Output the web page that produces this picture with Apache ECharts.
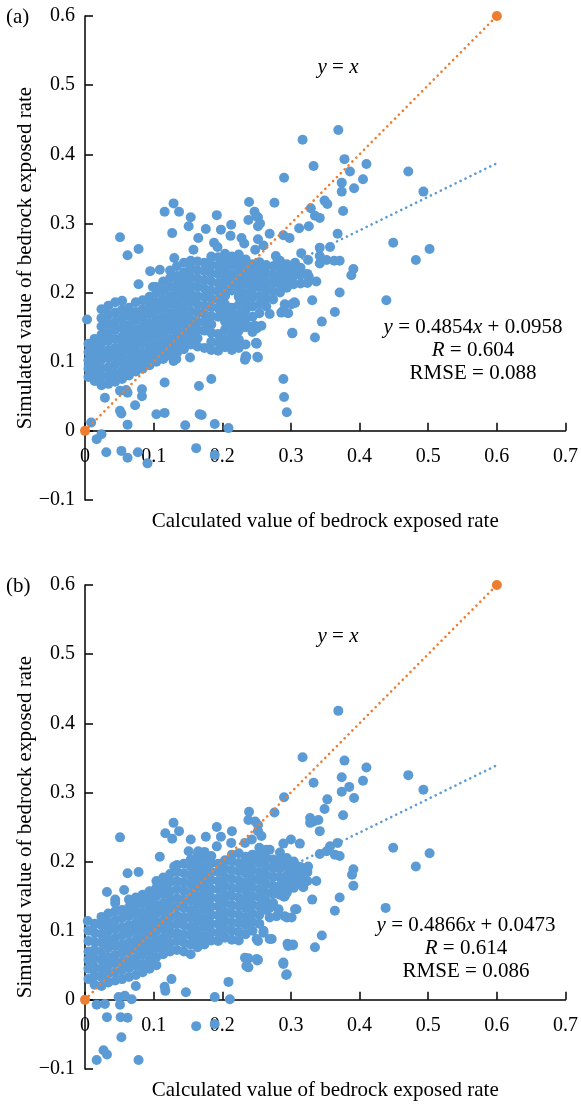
<!DOCTYPE html>
<html>
<head>
<meta charset="utf-8">
<script src="https://cdn.jsdelivr.net/npm/echarts@6.0.0/dist/echarts.min.js"></script>
<style>
  html, body { margin: 0; padding: 0; background: #fff; }
  #chart { width: 581px; height: 1104px; }
</style>
</head>
<body>
<div id="chart"></div>
<script>
// panel (a): dense band, one column per x with its y values
const blobA = [
  [0.005, [0.078, 0.09, 0.102, 0.114, 0.126]],
  [0.014, [0.072, 0.084, 0.097, 0.109, 0.121, 0.133]],
  [0.024, [0.066, 0.078, 0.09, 0.103, 0.115, 0.127, 0.139, 0.151, 0.163, 0.176]],
  [0.034, [0.068, 0.08, 0.092, 0.105, 0.117, 0.13, 0.142, 0.155, 0.168, 0.181]],
  [0.044, [0.071, 0.083, 0.096, 0.108, 0.12, 0.133, 0.146, 0.158, 0.171, 0.186]],
  [0.054, [0.075, 0.087, 0.1, 0.112, 0.124, 0.136, 0.149, 0.162, 0.175, 0.188]],
  [0.064, [0.08, 0.092, 0.104, 0.117, 0.129, 0.141, 0.153, 0.166, 0.178]],
  [0.074, [0.086, 0.098, 0.11, 0.122, 0.135, 0.147, 0.16, 0.172, 0.186]],
  [0.084, [0.09, 0.102, 0.114, 0.127, 0.139, 0.151, 0.164, 0.176, 0.189]],
  [0.094, [0.095, 0.107, 0.119, 0.132, 0.144, 0.156, 0.169, 0.181, 0.194]],
  [0.104, [0.1, 0.112, 0.124, 0.137, 0.149, 0.161, 0.174, 0.186, 0.199, 0.208]],
  [0.114, [0.104, 0.116, 0.128, 0.141, 0.153, 0.165, 0.178, 0.19, 0.203, 0.216]],
  [0.124, [0.109, 0.121, 0.133, 0.146, 0.158, 0.17, 0.183, 0.195, 0.208, 0.221, 0.232]],
  [0.134, [0.113, 0.126, 0.138, 0.15, 0.162, 0.175, 0.187, 0.2, 0.212, 0.224, 0.238]],
  [0.144, [0.118, 0.13, 0.142, 0.155, 0.167, 0.179, 0.192, 0.204, 0.217, 0.229, 0.243]],
  [0.154, [0.125, 0.137, 0.149, 0.161, 0.173, 0.186, 0.198, 0.21, 0.222, 0.235, 0.246]],
  [0.164, [0.122, 0.134, 0.146, 0.158, 0.171, 0.183, 0.195, 0.208, 0.22, 0.232, 0.245]],
  [0.174, [0.12, 0.145, 0.157, 0.169, 0.181, 0.194, 0.206, 0.218, 0.231, 0.243]],
  [0.184, [0.117, 0.129, 0.142, 0.154, 0.166, 0.179, 0.191, 0.203, 0.216, 0.228, 0.24, 0.252]],
  [0.194, [0.116, 0.128, 0.14, 0.165, 0.178, 0.19, 0.202, 0.214, 0.227, 0.239, 0.251]],
  [0.204, [0.121, 0.133, 0.146, 0.158, 0.17, 0.183, 0.195, 0.207, 0.219, 0.232, 0.244, 0.256]],
  [0.214, [0.117, 0.129, 0.141, 0.154, 0.166, 0.178, 0.203, 0.215, 0.227, 0.24, 0.252]],
  [0.224, [0.12, 0.132, 0.145, 0.157, 0.169, 0.182, 0.194, 0.206, 0.218, 0.231, 0.243, 0.255]],
  [0.234, [0.108, 0.125, 0.15, 0.162, 0.175, 0.187, 0.199, 0.212, 0.224, 0.236, 0.248]],
  [0.244, [0.143, 0.165, 0.18, 0.193, 0.205, 0.217, 0.229, 0.241]],
  [0.254, [0.17, 0.183, 0.195, 0.208, 0.22, 0.232, 0.244]],
  [0.264, [0.18, 0.192, 0.204, 0.216, 0.228, 0.24]],
  [0.274, [0.19, 0.202, 0.214, 0.226, 0.238]],
  [0.284, [0.2, 0.212, 0.224, 0.236, 0.246]],
  [0.294, [0.207, 0.219, 0.231, 0.241]],
  [0.304, [0.212, 0.224, 0.236]],
  [0.314, [0.213, 0.226, 0.236]],
  [0.324, [0.214, 0.227]]
];

// panel (a): scattered points outside the band
const spreadA = [
  [0.129, 0.329], [0.116, 0.317], [0.137, 0.317], [0.154, 0.309], [0.192, 0.312], [0.239, 0.331],
  [0.247, 0.317], [0.252, 0.309], [0.238, 0.305], [0.252, 0.296], [0.151, 0.296], [0.176, 0.292],
  [0.198, 0.291], [0.213, 0.298], [0.127, 0.286], [0.051, 0.28], [0.212, 0.282], [0.165, 0.279],
  [0.228, 0.279], [0.232, 0.271], [0.078, 0.263], [0.188, 0.272], [0.193, 0.266], [0.062, 0.254],
  [0.158, 0.262], [0.13, 0.25], [0.095, 0.231], [0.109, 0.233], [0.078, 0.212], [0.099, 0.208],
  [0.003, 0.161], [0.029, 0.048], [0.051, 0.058], [0.062, 0.055], [0.083, 0.06], [0.083, 0.05],
  [0.073, 0.037], [0.051, 0.029], [0.053, 0.025], [0.104, 0.024], [0.116, 0.026], [0.116, 0.07],
  [0.129, 0.101], [0.133, 0.104], [0.153, 0.106], [0.166, 0.065], [0.184, 0.075], [0.17, 0.023],
  [0.146, 0.008], [0.062, 0.009], [0.189, 0.01], [0.209, 0.004], [0.009, 0.012],
  [0.017, -0.012], [0.024, -0.005], [0.031, -0.031], [0.053, -0.029], [0.062, -0.039], [0.077, -0.031],
  [0.091, -0.047], [0.162, -0.025], [0.189, -0.035], [0.167, 0.024], [0.06, 0.059],
  [0.289, 0.075], [0.29, 0.049], [0.294, 0.027], [0.302, 0.142], [0.251, 0.107], [0.235, 0.107],
  [0.249, 0.127], [0.233, 0.155], [0.25, 0.148], [0.289, 0.174], [0.305, 0.186],
  [0.221, 0.147], [0.223, 0.132], [0.214, 0.123], [0.243, 0.151], [0.25, 0.127], [0.252, 0.106], [0.233, 0.103],
  [0.369, 0.435], [0.317, 0.421], [0.378, 0.393], [0.333, 0.383], [0.41, 0.386], [0.29, 0.366],
  [0.386, 0.375], [0.405, 0.364], [0.471, 0.375], [0.374, 0.359], [0.374, 0.346], [0.392, 0.351],
  [0.493, 0.346], [0.276, 0.33], [0.349, 0.333], [0.353, 0.328], [0.329, 0.322], [0.335, 0.311],
  [0.342, 0.308], [0.326, 0.296], [0.376, 0.318], [0.312, 0.293], [0.368, 0.285], [0.289, 0.283],
  [0.298, 0.279], [0.269, 0.285], [0.449, 0.272], [0.502, 0.263], [0.482, 0.247], [0.342, 0.265],
  [0.357, 0.266], [0.342, 0.253], [0.315, 0.257], [0.325, 0.247], [0.278, 0.253], [0.28, 0.243],
  [0.342, 0.242], [0.352, 0.247], [0.363, 0.246], [0.371, 0.246], [0.306, 0.243], [0.391, 0.234],
  [0.388, 0.225], [0.371, 0.2], [0.331, 0.189], [0.439, 0.189], [0.291, 0.183], [0.301, 0.183],
  [0.306, 0.185], [0.286, 0.171], [0.296, 0.17], [0.269, 0.169], [0.364, 0.172], [0.345, 0.158],
  [0.257, 0.152], [0.248, 0.152], [0.302, 0.141], [0.335, 0.135], [0.25, 0.126],
  [0.252, 0.277], [0.248, 0.262], [0.26, 0.268], [0.25, 0.31], [0.255, 0.3],
  [0.337, 0.216], [0.326, 0.223], [0.29, 0.22], [0.262, 0.215]
];

// panel (b): dense band
const blobB = [
  [0.005, [0.03, 0.045, 0.058, 0.07, 0.085, 0.1]],
  [0.014, [0.022, 0.035, 0.047, 0.06, 0.072, 0.084, 0.097, 0.11]],
  [0.024, [0.02, 0.033, 0.045, 0.058, 0.07, 0.083, 0.095, 0.108, 0.12]],
  [0.034, [0.025, 0.038, 0.05, 0.062, 0.075, 0.087, 0.1, 0.112, 0.125]],
  [0.044, [0.028, 0.04, 0.053, 0.065, 0.078, 0.09, 0.103, 0.115, 0.128, 0.14]],
  [0.054, [0.03, 0.043, 0.055, 0.068, 0.08, 0.093, 0.105, 0.118, 0.13]],
  [0.064, [0.033, 0.046, 0.058, 0.071, 0.083, 0.096, 0.108, 0.121, 0.133, 0.145]],
  [0.074, [0.02, 0.036, 0.049, 0.061, 0.074, 0.086, 0.099, 0.111, 0.124, 0.136, 0.148]],
  [0.084, [0.04, 0.052, 0.065, 0.077, 0.09, 0.102, 0.115, 0.127, 0.14, 0.152]],
  [0.094, [0.045, 0.057, 0.07, 0.082, 0.095, 0.107, 0.12, 0.132, 0.145, 0.157]],
  [0.104, [0.05, 0.062, 0.075, 0.087, 0.1, 0.112, 0.125, 0.137, 0.15, 0.162, 0.172]],
  [0.114, [0.066, 0.078, 0.09, 0.103, 0.115, 0.128, 0.14, 0.153, 0.165, 0.177]],
  [0.124, [0.07, 0.082, 0.095, 0.107, 0.12, 0.132, 0.145, 0.157, 0.17, 0.182]],
  [0.134, [0.072, 0.085, 0.097, 0.11, 0.122, 0.135, 0.147, 0.16, 0.172, 0.185, 0.195]],
  [0.144, [0.07, 0.083, 0.095, 0.108, 0.12, 0.133, 0.145, 0.158, 0.17, 0.183, 0.197]],
  [0.154, [0.066, 0.08, 0.093, 0.105, 0.118, 0.13, 0.143, 0.155, 0.168, 0.18, 0.193, 0.203]],
  [0.164, [0.076, 0.088, 0.1, 0.113, 0.125, 0.138, 0.15, 0.163, 0.175, 0.188, 0.2, 0.209]],
  [0.174, [0.08, 0.092, 0.105, 0.117, 0.13, 0.142, 0.155, 0.167, 0.18, 0.192, 0.205, 0.214]],
  [0.184, [0.086, 0.098, 0.11, 0.123, 0.135, 0.148, 0.16, 0.173, 0.185, 0.198, 0.208]],
  [0.194, [0.085, 0.097, 0.11, 0.122, 0.135, 0.147, 0.16, 0.172, 0.185, 0.197]],
  [0.204, [0.09, 0.102, 0.115, 0.127, 0.14, 0.152, 0.165, 0.177, 0.19, 0.202]],
  [0.214, [0.087, 0.1, 0.112, 0.125, 0.137, 0.15, 0.162, 0.175, 0.187, 0.2, 0.21]],
  [0.224, [0.086, 0.098, 0.111, 0.123, 0.136, 0.148, 0.161, 0.173, 0.186, 0.198, 0.212]],
  [0.234, [0.095, 0.108, 0.12, 0.133, 0.145, 0.158, 0.17, 0.183, 0.195, 0.207]],
  [0.244, [0.1, 0.113, 0.125, 0.138, 0.15, 0.163, 0.175, 0.188, 0.2, 0.21]],
  [0.254, [0.11, 0.123, 0.135, 0.148, 0.16, 0.173, 0.185, 0.198, 0.21, 0.22]],
  [0.264, [0.13, 0.143, 0.155, 0.168, 0.18, 0.193, 0.205, 0.217]],
  [0.274, [0.14, 0.153, 0.165, 0.178, 0.19, 0.203]],
  [0.284, [0.152, 0.165, 0.177, 0.19, 0.202, 0.213]],
  [0.294, [0.155, 0.168, 0.18, 0.193, 0.205]],
  [0.304, [0.162, 0.175, 0.187, 0.2]],
  [0.314, [0.167, 0.18, 0.192]],
  [0.324, [0.172, 0.185]]
];

// panel (b): scattered points outside the band
const spreadB = [
  [0.129, 0.256], [0.117, 0.241], [0.137, 0.244], [0.127, 0.233], [0.051, 0.235], [0.109, 0.207],
  [0.154, 0.232], [0.151, 0.215], [0.165, 0.215], [0.176, 0.236], [0.192, 0.25], [0.198, 0.236],
  [0.214, 0.244], [0.213, 0.227], [0.192, 0.222], [0.239, 0.272], [0.238, 0.26], [0.248, 0.258],
  [0.252, 0.244], [0.233, 0.227], [0.243, 0.232], [0.062, 0.183], [0.078, 0.185], [0.032, 0.156],
  [0.057, 0.159], [0.044, 0.145], [0.13, 0.193], [0.004, 0.114],
  [0.017, -0.007], [0.029, -0.006], [0.032, -0.025], [0.052, -0.025], [0.062, -0.026], [0.053, -0.054],
  [0.027, -0.073], [0.032, -0.079], [0.017, -0.087], [0.078, -0.087], [0.162, -0.038], [0.189, -0.035],
  [0.189, 0.004], [0.211, 0.001], [0.209, 0.026], [0.147, 0.011], [0.117, 0.013], [0.116, 0.019],
  [0.126, 0.03], [0.058, 0.006], [0.068, 0.001], [0.049, 0.004], [0.051, -0.007],
  [0.233, 0.061], [0.238, 0.047], [0.252, 0.058], [0.26, 0.097], [0.235, 0.049], [0.238, 0.06],
  [0.251, 0.057], [0.289, 0.054], [0.293, 0.036], [0.295, 0.081], [0.303, 0.08], [0.272, 0.088],
  [0.25, 0.088], [0.306, 0.131], [0.306, 0.196], [0.291, 0.15], [0.294, 0.119], [0.279, 0.121], [0.265, 0.136],
  [0.369, 0.418], [0.317, 0.351], [0.378, 0.346], [0.41, 0.336], [0.333, 0.314], [0.374, 0.322],
  [0.385, 0.308], [0.374, 0.301], [0.405, 0.317], [0.392, 0.292], [0.471, 0.325], [0.493, 0.304],
  [0.29, 0.293], [0.353, 0.29], [0.349, 0.276], [0.276, 0.271], [0.376, 0.267], [0.328, 0.263],
  [0.333, 0.258], [0.328, 0.256], [0.34, 0.26], [0.342, 0.244], [0.252, 0.253], [0.257, 0.237],
  [0.449, 0.22], [0.502, 0.212], [0.482, 0.193], [0.289, 0.226], [0.3, 0.232], [0.313, 0.226],
  [0.342, 0.211], [0.352, 0.215], [0.357, 0.222], [0.368, 0.227], [0.364, 0.21], [0.371, 0.208],
  [0.269, 0.217], [0.277, 0.198], [0.303, 0.196], [0.325, 0.193], [0.337, 0.172], [0.391, 0.189],
  [0.389, 0.181], [0.391, 0.165], [0.331, 0.145], [0.29, 0.149], [0.371, 0.148], [0.364, 0.129],
  [0.438, 0.133], [0.269, 0.133], [0.282, 0.131], [0.269, 0.119], [0.291, 0.121], [0.301, 0.119],
  [0.308, 0.131], [0.345, 0.093], [0.335, 0.076], [0.296, 0.078], [0.303, 0.079], [0.269, 0.088],
  [0.26, 0.1], [0.252, 0.085], [0.25, 0.059], [0.289, 0.052], [0.294, 0.037],
  [0.32, 0.17], [0.31, 0.17], [0.318, 0.163], [0.296, 0.165], [0.286, 0.16], [0.276, 0.16]
];

// fitted lines: y = slope * x + intercept, drawn over fitRange
const fitSlope = [0.4854, 0.4866];
const fitIntercept = [0.0958, 0.0473];
const fitR = ['0.604', '0.614'];
const fitRmse = ['0.088', '0.086'];
const fitRange = [0, 0.6];
const identityRange = [0, 0.6];
const panelTags = ['(a)', '(b)'];

const xName = 'Calculated value of bedrock exposed rate';
const yName = 'Simulated value of bedrock exposed rate';

const FONT = '"Liberation Serif", "Times New Roman", serif';
const BLUE = '#5B9BD5';
const ORANGE = '#ED7D31';

function flatten(cols) {
  const out = [];
  cols.forEach(([x, ys]) => ys.forEach((y) => out.push([x, y])));
  return out;
}

function tickLabel(v) {
  if (Math.abs(v) < 1e-9) return '0';
  const s = Math.abs(v).toFixed(1);
  return v < 0 ? '\u2212' + s : s;
}

const PLOT_H = 484;
const grids = [
  { left: 85, top: 16, width: 481, height: PLOT_H },
  { left: 85, top: 585, width: 481, height: PLOT_H }
];
// x axis sits on y = 0, i.e. 1/7 of the plot height above the bottom edge
const zeroLift = -PLOT_H / 7;
const points = [flatten(blobA).concat(spreadA), flatten(blobB).concat(spreadB)];

const lineStyleAxis = { color: '#000', width: 1.5 };
const labelStyle = { fontFamily: FONT, fontSize: 20, color: '#000', formatter: tickLabel };
const nameStyle = { fontFamily: FONT, fontSize: 21, color: '#000' };

const xAxis = grids.map((g, i) => ({
  type: 'value', gridIndex: i, min: 0, max: 0.7, interval: 0.1,
  position: 'bottom', offset: zeroLift,
  name: xName, nameLocation: 'middle', nameGap: 80, nameMoveOverlap: false, nameTextStyle: nameStyle,
  axisLine: { onZero: false, lineStyle: lineStyleAxis },
  axisTick: { inside: true, length: 8, lineStyle: lineStyleAxis },
  axisLabel: Object.assign({ margin: 16 }, labelStyle),
  splitLine: { show: false }
}));

const yAxis = grids.map((g, i) => ({
  type: 'value', gridIndex: i, min: -0.1, max: 0.6, interval: 0.1,
  name: yName, nameLocation: 'middle', nameGap: 49, nameMoveOverlap: false, nameTextStyle: nameStyle,
  axisLine: { onZero: false, lineStyle: lineStyleAxis },
  axisTick: { inside: true, length: 8, lineStyle: lineStyleAxis },
  axisLabel: Object.assign({ margin: 10 }, labelStyle),
  splitLine: { show: false }
}));

const dotted = (color) => ({ color: color, width: 2.6, type: [0.1, 5.4], cap: 'round' });

const series = [];
grids.forEach((g, i) => {
  series.push({
    type: 'scatter', xAxisIndex: i, yAxisIndex: i, data: points[i],
    symbol: 'circle', symbolSize: 10, itemStyle: { color: BLUE, opacity: 1 },
    z: 2, silent: true
  });
  series.push({
    type: 'line', xAxisIndex: i, yAxisIndex: i,
    data: fitRange.map((x) => [x, fitSlope[i] * x + fitIntercept[i]]),
    symbol: 'none', lineStyle: dotted(BLUE), z: 3, silent: true, clip: false
  });
  series.push({
    type: 'line', xAxisIndex: i, yAxisIndex: i,
    data: identityRange.map((x) => [x, x]),
    symbol: 'circle', symbolSize: 10, showSymbol: true,
    itemStyle: { color: ORANGE }, lineStyle: dotted(ORANGE), z: 4, silent: true, clip: false
  });
});

const ital = { fontFamily: FONT, fontSize: 21, fontStyle: 'italic', fill: '#000' };
function label(x, y, text, align) {
  return {
    type: 'text', x: x, y: y, silent: true,
    style: {
      text: text, fontFamily: FONT, fontSize: 21, fill: '#000',
      align: align || 'center', verticalAlign: 'middle', rich: { i: ital }
    }
  };
}

const eqX = [473, 466];
const eqY = [327, 925];
const idY = [67, 636];
const tagY = [17, 586];
const graphic = [];
grids.forEach((g, i) => {
  graphic.push(label(6, tagY[i], panelTags[i], 'left'));
  graphic.push(label(338, idY[i], '{i|y} = {i|x}'));
  graphic.push(label(eqX[i], eqY[i], '{i|y} = ' + fitSlope[i].toFixed(4) + '{i|x} + ' + fitIntercept[i].toFixed(4)));
  graphic.push(label(eqX[i], eqY[i] + 23, '{i|R} = ' + fitR[i]));
  graphic.push(label(eqX[i], eqY[i] + 46, 'RMSE = ' + fitRmse[i]));
});

const chart = echarts.init(document.getElementById('chart'), null, { renderer: 'canvas' });
chart.setOption({
  animation: false,
  backgroundColor: '#fff',
  grid: grids,
  xAxis: xAxis,
  yAxis: yAxis,
  series: series,
  graphic: graphic
});
</script>
</body>
</html>
